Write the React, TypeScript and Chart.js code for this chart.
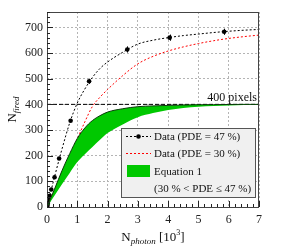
import React, { useEffect, useRef } from "react";
import { Chart, registerables } from "chart.js";

Chart.register(...registerables);

// ---- data ----
const curveX = [0, 0.25, 0.5, 0.75, 1, 1.25, 1.5, 1.75, 2, 2.5, 3, 3.5, 4, 4.5, 5, 5.5, 6, 6.5, 7];
const fit47 = [0, 118, 228, 328, 405, 460, 505, 540, 565, 603, 635, 650, 660, 668, 674, 680, 685, 689, 692];
const fit30 = [0, 68, 135, 200, 265, 332, 392, 428, 458, 512, 558, 587, 608, 624, 637, 648, 657, 664, 670];
const eqUpper = [0, 70, 143, 208, 267, 308, 337, 356, 370, 383, 391, 394, 396, 397.5, 398.5, 399, 399.5, 400, 400];
const eqLower = [0, 45, 90, 133, 175, 206, 234, 262, 288, 322, 350, 366, 378, 386, 391, 394, 396, 398, 399];
const dataX = [0.005, 0.015, 0.03, 0.05, 0.09, 0.14, 0.25, 0.4, 0.78, 1.39, 2.65, 4.05, 5.85];
const dataY = [3, 8, 16, 27, 44, 68, 116, 189, 336, 490, 614, 660, 683];
const dataErr = [0, 0, 0, 0, 0, 0, 0, 0, 0, 10, 12, 12, 12];
const limitX = [0, 7];
const limitY = [400, 400];
const xTicks = [0, 1, 2, 3, 4, 5, 6, 7];
const yTicks = [0, 100, 200, 300, 400, 500, 600, 700];
const legendLabels = ["Data (PDE = 47 %)", "Data (PDE = 30 %)", "Equation 1", "(30 % < PDE \u2264 47 %)"];
const limitLabel = "400 pixels";

const SERIF = "'Liberation Serif', 'DejaVu Serif', serif";
const GREEN = "#00c800";

const pts = (xs: number[], ys: number[]) => xs.map((x, i) => ({ x, y: ys[i] }));

const decor = {
  id: "decor",
  afterDatasetsDraw(chart: any) {
    const { ctx, chartArea: a, scales } = chart;
    const xs = scales.x, ys = scales.y;
    ctx.save();
    // error bars
    ctx.strokeStyle = "#000";
    ctx.lineWidth = 1;
    dataX.forEach((x, i) => {
      if (!dataErr[i]) return;
      const px = Math.round(xs.getPixelForValue(x)) + 0.5;
      const p1 = ys.getPixelForValue(dataY[i] - dataErr[i]);
      const p2 = ys.getPixelForValue(dataY[i] + dataErr[i]);
      ctx.beginPath();
      ctx.moveTo(px, p1);
      ctx.lineTo(px, p2);
      ctx.stroke();
    });
    // frame
    ctx.strokeStyle = "#444";
    ctx.lineWidth = 1;
    ctx.strokeRect(a.left + 0.5, a.top + 0.5, a.right - a.left - 1, a.bottom - a.top);
    // inner ticks
    ctx.strokeStyle = "#222";
    ctx.beginPath();
    for (let v = 0; v <= 7.0001; v += 0.2) {
      const px = Math.round(xs.getPixelForValue(v)) + 0.5;
      const major = Math.abs(v - Math.round(v)) < 1e-6;
      ctx.moveTo(px, a.bottom);
      ctx.lineTo(px, a.bottom - (major ? 6 : 3));
    }
    for (let v = 0; v <= 760; v += 20) {
      const py = Math.round(ys.getPixelForValue(v)) + 0.5;
      const major = v % 100 === 0;
      ctx.moveTo(a.left, py);
      ctx.lineTo(a.left + (major ? 6 : 3), py);
    }
    ctx.stroke();
    // limit label
    ctx.fillStyle = "#111";
    ctx.font = `12px ${SERIF}`;
    ctx.textAlign = "right";
    ctx.textBaseline = "alphabetic";
    ctx.fillText(limitLabel, a.right - 2, ys.getPixelForValue(400) - 3);
    // legend
    const lx = 121, ly = 128, lw = 134, lh = 69;
    ctx.fillStyle = "#f0f0f0";
    ctx.fillRect(lx, ly, lw, lh);
    ctx.strokeStyle = "#555";
    ctx.strokeRect(lx + 0.5, ly + 0.5, lw, lh);
    const rows = [136, 153, 171, 188];
    ctx.lineWidth = 1;
    ctx.setLineDash([2, 2]);
    ctx.strokeStyle = "#000";
    ctx.beginPath();
    ctx.moveTo(126, rows[0] + 0.5);
    ctx.lineTo(151, rows[0] + 0.5);
    ctx.stroke();
    ctx.strokeStyle = "#ff0000";
    ctx.beginPath();
    ctx.moveTo(126, rows[1] + 0.5);
    ctx.lineTo(151, rows[1] + 0.5);
    ctx.stroke();
    ctx.setLineDash([]);
    ctx.fillStyle = "#000";
    ctx.beginPath();
    ctx.arc(138.5, rows[0] + 0.5, 2.3, 0, Math.PI * 2);
    ctx.fill();
    ctx.fillStyle = GREEN;
    ctx.fillRect(127, 165, 23, 12);
    ctx.fillStyle = "#111";
    ctx.font = `11px ${SERIF}`;
    ctx.textAlign = "left";
    ctx.textBaseline = "middle";
    legendLabels.forEach((t, i) => ctx.fillText(t, 154, rows[i] + 1));
    // x title
    const big = `13px ${SERIF}`, sub = `italic 9px ${SERIF}`, sup = `8px ${SERIF}`;
    ctx.textBaseline = "alphabetic";
    const partsX: [string, string, number][] = [
      ["N", big, 0], ["photon", sub, 3], [" [10", big, 0], ["3", sup, -6], ["]", big, 0],
    ];
    let tw = 0;
    partsX.forEach(([t, f]) => { ctx.font = f; tw += ctx.measureText(t).width; });
    let cx = (a.left + a.right) / 2 - tw / 2;
    const baseX = 241;
    partsX.forEach(([t, f, dy]) => {
      ctx.font = f;
      ctx.fillText(t, cx, baseX + dy);
      cx += ctx.measureText(t).width;
    });
    // y title
    const partsY: [string, string, number][] = [["N", big, 0], ["fired", sub, 3]];
    let th = 0;
    partsY.forEach(([t, f]) => { ctx.font = f; th += ctx.measureText(t).width; });
    ctx.translate(16, (a.top + a.bottom) / 2);
    ctx.rotate(-Math.PI / 2);
    let cy = -th / 2;
    partsY.forEach(([t, f, dy]) => {
      ctx.font = f;
      ctx.fillText(t, cy, dy);
      cy += ctx.measureText(t).width;
    });
    ctx.restore();
  },
};

export default function App() {
  const ref = useRef<HTMLCanvasElement>(null);
  useEffect(() => {
    const chart = new Chart(ref.current!, {
      type: "line",
      data: {
        datasets: [
          {
            data: pts(curveX, eqLower),
            borderColor: "rgba(0,0,0,0)",
            borderWidth: 0,
            pointRadius: 0,
            fill: false,
            cubicInterpolationMode: "monotone",
          },
          {
            data: pts(curveX, eqUpper),
            borderColor: "#0a3a0a",
            borderWidth: 1,
            backgroundColor: GREEN,
            pointRadius: 0,
            fill: "-1",
            cubicInterpolationMode: "monotone",
          },
          {
            data: pts(curveX, fit30),
            borderColor: "#ff0000",
            borderWidth: 1,
            borderDash: [2, 2],
            pointRadius: 0,
            fill: false,
            cubicInterpolationMode: "monotone",
          },
          {
            data: pts(curveX, fit47),
            borderColor: "#000",
            borderWidth: 1,
            borderDash: [2, 2],
            pointRadius: 0,
            fill: false,
            cubicInterpolationMode: "monotone",
          },
          {
            data: pts(limitX, limitY),
            borderColor: "#000",
            borderWidth: 1,
            borderDash: [4, 2],
            pointRadius: 0,
            fill: false,
          },
          {
            data: pts(dataX, dataY),
            showLine: false,
            pointRadius: 2.3,
            pointBackgroundColor: "#000",
            pointBorderColor: "#000",
            pointBorderWidth: 0,
          },
        ],
      },
      options: {
        animation: false,
        responsive: false,
        devicePixelRatio: 1,
        layout: { padding: { left: 0, right: 24, top: 12, bottom: 0 } },
        plugins: { legend: { display: false }, tooltip: { enabled: false } },
        scales: {
          x: {
            type: "linear",
            min: 0,
            max: 7,
            afterBuildTicks: (s: any) => { s.ticks = xTicks.map((v) => ({ value: v })); },
            afterFit: (s: any) => { s.height = 40; },
            border: { display: false, dash: [2, 2] },
            grid: { color: "#b4b4b4", drawTicks: false, lineWidth: 1 },
            ticks: { padding: 6, color: "#222", font: { family: SERIF, size: 12 } },
          },
          y: {
            type: "linear",
            min: 0,
            max: 760,
            afterBuildTicks: (s: any) => { s.ticks = yTicks.map((v) => ({ value: v })); },
            afterFit: (s: any) => { s.width = 47; },
            border: { display: false, dash: [2, 2] },
            grid: { color: "#b4b4b4", drawTicks: false, lineWidth: 1 },
            ticks: { padding: 4, color: "#222", font: { family: SERIF, size: 12 } },
          },
        },
      },
      plugins: [decor],
    });
    return () => chart.destroy();
  }, []);
  return (
    <div style={{ position: "absolute", left: 0, top: 0, width: 283, height: 247 }}>
      <canvas ref={ref} width={283} height={247} />
    </div>
  );
}
